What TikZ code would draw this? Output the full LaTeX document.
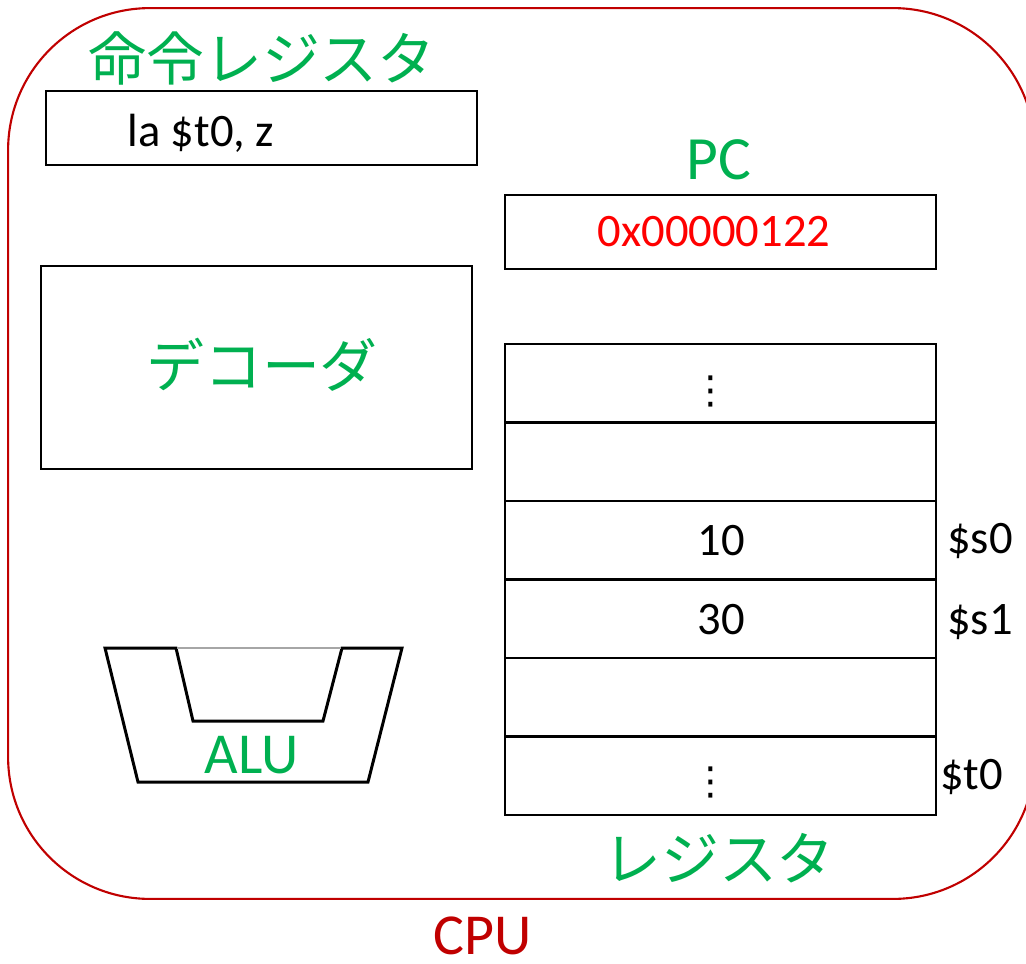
\documentclass[tikz,border=0pt]{standalone}
\usepackage{fontspec}
\setmainfont{Carlito}
\newfontfamily\jp{Noto Sans CJK JP}
\newfontfamily\symfont{DejaVu Sans}
\usetikzlibrary{positioning}
\definecolor{lblgreen}{HTML}{00B050}
\definecolor{cpured}{HTML}{C00000}
\definecolor{pcred}{HTML}{FF0000}
\tikzset{
    unitbox/.style = {draw, line width=1.15pt, inner sep=0pt},
    regrow/.style = {unitbox, minimum width=8.62cm, minimum height=1.57cm},
    jplabel/.style = {text=lblgreen, inner sep=0pt, font=\jp\fontsize{33}{33}\selectfont},
    val/.style = {inner sep=0pt, font=\fontsize{26.5}{26.5}\selectfont},
    vdotsnode/.style = {inner sep=0pt, font=\symfont\fontsize{22}{22}\selectfont}
}
\begin{document}
\begin{tikzpicture}[x=0.02cm, y=-0.02cm]
        \useasboundingbox (0,0) rectangle (1026,963);
        % CPU
        \node[draw=cpured, line width=1.2pt, rounded corners=2.84cm,
              minimum width=20.54cm, minimum height=17.82cm, inner sep=0pt] (cpu) at (521.5,453.5) {};
        \node[text=cpured, inner sep=0pt, font=\fontsize{33}{33}\selectfont] (cpulbl) at (482.5,936) {CPU};

        % instruction register
        \node[jplabel] (irlbl) at (262,58) {命令レジスタ};
        \node[unitbox, minimum width=8.62cm, minimum height=1.48cm] (ir) at (261.5,128) {};
        \node[val, anchor=west] (irtext) at (127,133) {la \$t0, z};

        % decoder
        \node[unitbox, minimum width=8.62cm, minimum height=4.06cm] (dec) at (256.5,367.5) {};
        \node[jplabel] (declbl) at (262,365) {デコーダ};

        % PC
        \node[text=lblgreen, inner sep=0pt, font=\fontsize{35}{35}\selectfont] (pclbl) at (719,160) {PC};
        \node[unitbox, minimum width=8.62cm, minimum height=1.48cm] (pc) at (720.5,232) {};
        \node[val, text=pcred] (pcval) at (714,232) {0x00000122};

        % registers
        \foreach \i in {0,...,5}
            \node[regrow] (r\i) at (720.5,383.25+78.5*\i) {};
        \node[vdotsnode] (dots0) at (711,391) {⋮};
        \node[val] (v2) at (721,541) {10};
        \node[val] (v3) at (721,620) {30};
        \node[vdotsnode] (dots5) at (711,782) {⋮};
        \node[val, anchor=west] (s0) at (947,541) {\$s0};
        \node[val, anchor=west] (s1) at (947,622) {\$s1};
        \node[val, anchor=west] (t0) at (940,777) {\$t0};
        \node[jplabel] (reglbl) at (719,858) {レジスタ};

        % ALU
        \draw[line width=1.7pt, line join=miter] (105,648) -- (176,648) -- (193,721) -- (323,721)
            -- (342,648) -- (402,648) -- (368,782) -- (138,782) -- cycle;
        \draw[gray!70, line width=0.6pt] (177,648) -- (341,648);
        \node[text=lblgreen, inner sep=0pt, font=\fontsize{33}{33}\selectfont] (alu) at (251.5,755) {ALU};
\end{tikzpicture}
\end{document}
